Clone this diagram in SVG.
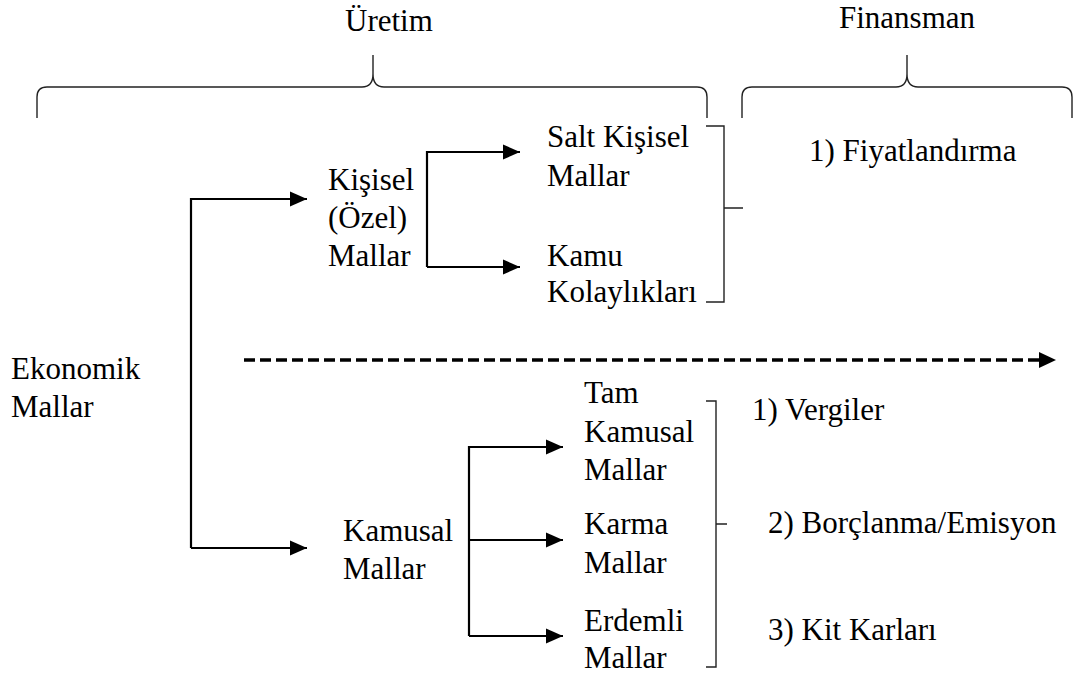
<svg xmlns="http://www.w3.org/2000/svg" width="1077" height="675" viewBox="0 0 1077 675">
  <style>
    text { font-family: "Liberation Serif", "Times New Roman", Tinos, "Noto Serif", "DejaVu Serif", FreeSerif, serif; font-size: 31px; fill: #000; }
    .brace { fill: none; stroke: #222; stroke-width: 1.4; }
    .bracket { fill: none; stroke: #222; stroke-width: 1.4; }
    .flow { fill: none; stroke: #000; stroke-width: 2.2; }
    .dash { fill: none; stroke: #000; stroke-width: 3.5; stroke-dasharray: 11 5; }
  </style>
  <defs>
    <marker id="arrow" markerUnits="userSpaceOnUse" markerWidth="17" markerHeight="17" viewBox="0 0 17 17" refX="17" refY="8.5" orient="auto">
      <path d="M0,1 L17,8.5 L0,16 Z" fill="#000"/>
    </marker>
  </defs>

  <!-- column headings with braces -->
  <g id="uretim">
    <text x="345" y="31">Üretim</text>
    <path class="brace" d="M37,118 V97 Q37,87 47,87 H362 Q373,87 373,74 V55 M373,74 Q373,87 384,87 H697 Q707,87 707,97 V118"/>
  </g>
  <g id="finansman">
    <text x="839" y="28">Finansman</text>
    <path class="brace" d="M742,118 V97 Q742,87 752,87 H896 Q907,87 907,74 V55 M907,74 Q907,87 918,87 H1062 Q1072,87 1072,97 V118"/>
  </g>

  <!-- nodes -->
  <g id="ekonomik-mallar">
    <text x="11" y="379">Ekonomik</text>
    <text x="11" y="417">Mallar</text>
  </g>
  <g id="kisisel-mallar">
    <text x="328" y="190">Kişisel</text>
    <text x="328" y="228">(Özel)</text>
    <text x="328" y="266">Mallar</text>
  </g>
  <g id="salt-kisisel">
    <text x="547" y="147">Salt Kişisel</text>
    <text x="547" y="186">Mallar</text>
  </g>
  <g id="kamu-kolayliklari">
    <text x="547" y="266">Kamu</text>
    <text x="547" y="302">Kolaylıkları</text>
  </g>
  <g id="fiyatlandirma">
    <text x="809" y="161">1) Fiyatlandırma</text>
  </g>
  <g id="kamusal-mallar">
    <text x="343" y="541">Kamusal</text>
    <text x="343" y="579">Mallar</text>
  </g>
  <g id="tam-kamusal">
    <text x="584" y="403">Tam</text>
    <text x="584" y="442">Kamusal</text>
    <text x="584" y="480">Mallar</text>
  </g>
  <g id="karma">
    <text x="584" y="534">Karma</text>
    <text x="584" y="573">Mallar</text>
  </g>
  <g id="erdemli">
    <text x="584" y="631">Erdemli</text>
    <text x="584" y="668">Mallar</text>
  </g>
  <g id="vergiler">
    <text x="752" y="420">1) Vergiler</text>
  </g>
  <g id="borclanma">
    <text x="768" y="533">2) Borçlanma/Emisyon</text>
  </g>
  <g id="kit-karlari">
    <text x="768" y="640">3) Kit Karları</text>
  </g>

  <!-- connectors -->
  <g id="connectors">
    <path class="flow" d="M191,548 V199 H307" marker-end="url(#arrow)"/>
    <path class="flow" d="M191,548 H307" marker-end="url(#arrow)"/>
    <path class="flow" d="M427,267 V152 H520" marker-end="url(#arrow)"/>
    <path class="flow" d="M427,267 H520" marker-end="url(#arrow)"/>
    <path class="flow" d="M469,636 V447 H563" marker-end="url(#arrow)"/>
    <path class="flow" d="M469,540 H563" marker-end="url(#arrow)"/>
    <path class="flow" d="M469,636 H563" marker-end="url(#arrow)"/>
    <path class="dash" d="M244,360 H1040"/>
    <path d="M1039,352 L1056,360 L1039,368 Z" fill="#000"/>
    <path class="bracket" d="M706,126 H724 V302 H706 M724,208 H743"/>
    <path class="bracket" d="M706,401 H716 V667 H706 M716,524 H727"/>
  </g>
</svg>
